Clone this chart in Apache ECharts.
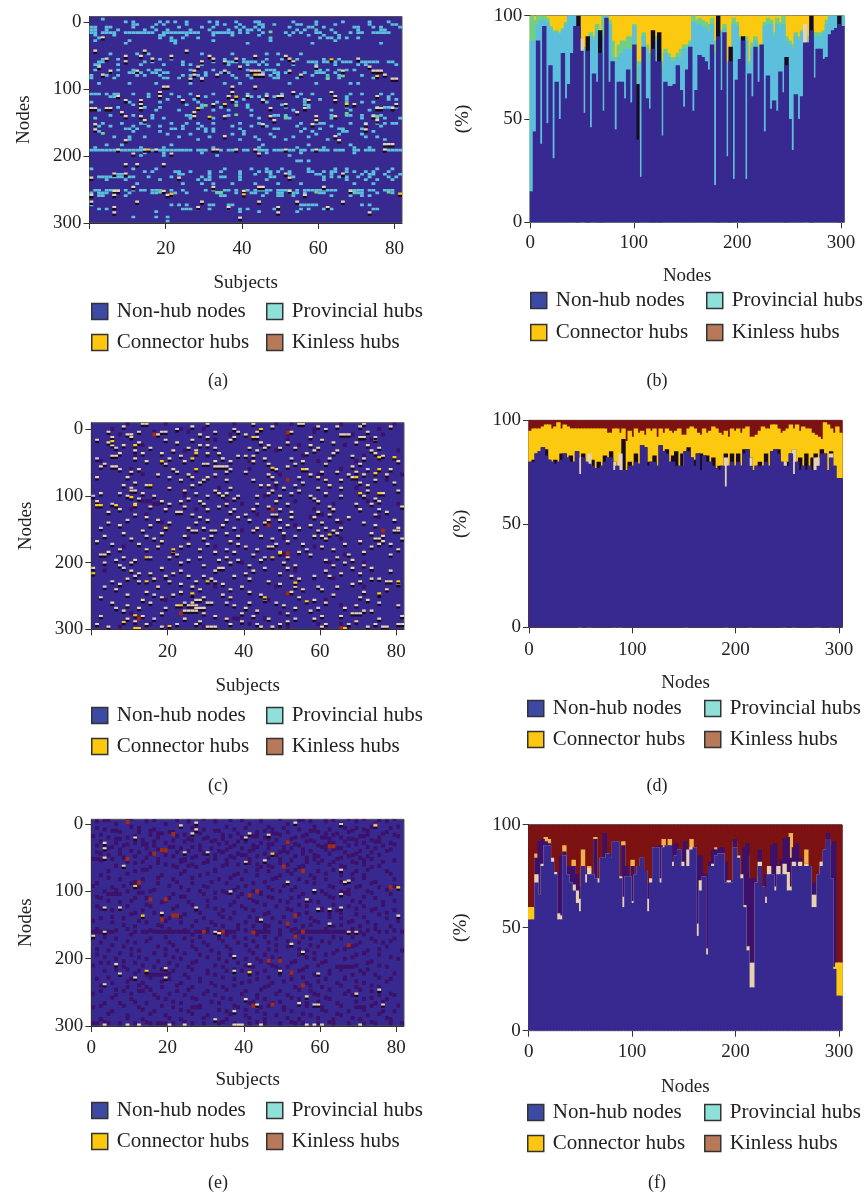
<!DOCTYPE html>
<html>
<head>
<meta charset="utf-8">
<title>Hub nodes</title>
<script src="https://cdn.jsdelivr.net/npm/echarts@6/dist/echarts.min.js"></script>
<style>html,body{margin:0;background:#fff}</style>
</head>
<body>
<div id="main" style="width:866px;height:1196px;"></div>
<script type="text/javascript">
// cell panels: each row is [node, subject, subject, ...]
var aProv = [[-5,4],[-1,10,12,19,21,23,26,32,34,39,44,45,54,60,67,74,79],[3,12,13,18,20,26,34,36,40,45,46,49,55,56,60,65,74,80,81],
[7,1,2,5,6,12,17,24,30,33,39,41,44,46,53,58,59,62,70,71,75,77,82],[11,1,2,5,8,15,18,21,27,32,37,40,42,43,45,55,57,60,64,71,77,78],
[15,1,2,4,5,6,7,10,11,12,13,14,15,16,17,20,21,22,23,24,25,26,27,28,29,33,34,35,36,37,38,40,42,46,52,54,56,60,61,65,69,71,72,75,76,77,78,79],
[19,2,7,19,20,26,33,38,45,53,58,62,66],[23,3,19,22,25,29,48,61,63,64,66,68,71],[27,2,11,22,23,33,48,65],[31,10,23,42,59,77],
[47,6,13,16,30,38,47,50,56],[55,4,8,19,22,36,41,47,51,55,62,66],[59,3,4,15,17,25,33,37,38,39,41,42,43,44,46,58,59,60,62,63,65,67,68,69,72,73,74,75,76,79,80],
[63,2,3,8,14,20,25,27,30,37,42,45,47,50,54,60,65,71,73,81],[71,2,8,12,16,18,19,27,33,42,47,48,49,60,61,63,66,68,70],[75,6,11,12,14,17,18,20,21,31,35,37,46,49,50,52,57,60,61,62,65],
[79,1,5,8,13,15,19,25,27,29,31,38,42,48,50,59,63,66,72],[83,1,7,20,21,24,30,39,43,49,50,55,63,66,75],[91,3,11,18,27,36,40,53,60,69,71],
[107,1,2,3,5,7,8,12,16,22,27,33,38,42,47,51,56,59,64,69,72,77,80],[111,6,7,16,24,31,37,43,45,49,55,68,79],[115,21,28,41,46,57,61,68,79,81],[119,1,11,19,29,34,39,47,57,68,72,75],
[123,12,26,30,42,51,57,58],[127,8,15,19,30,35,42,52,58,68,76,78,79,80,81],[131,3,18,24,29,33,37,43,54,64,69,74],[139,6,12,17,26,27,37,43,49,50,52,64,68,69,72,75,77],
[143,2,17,20,27,33,45,52,53,64,72,76,78,82],[151,4,9,14,15,22,26,29,33,40,45,56,60,61,62,69,73,76,78,80,81],[155,2,3,6,12,16,19,25,30,38,43,47,55,64,77],
[159,10,11,13,22,23,25,29,31,33,40,49,50,57,61,66,67,72],[163,3,12,19,31,33,41,56,59,67,68,75],[167,21,27,38,41,48,60,66,72],[171,7,11,15,24,32,44,49,54,58,73,76],
[175,11,29,40,45,52,63,78],[183,5,9,22,46,58,69,78],[187,2,14,20,33,45,55,62,70,74],[191,1,2,3,4,5,6,7,8,9,10,11,12,13,14,15,17,18,19,20,21,22,23,24,25,26,27,29,30,31,35,37,38,39,41,42,45,46,47,49,50,51,53,54,56,57,59,61,62,63,65,66,67,70,71,73,74,75,78,79,80,81,82],
[195,15,20,30,47,56,70],[199,14,20,34,53],[207,55,56,58],[219,1,12,18,36,43,47,51,58,65,68,76,80],[223,15,17,23,24,27,32,35,40,45,47,48,50,53,58,59,62,64,65,68,70,73,75,79],
[227,8,9,24,25,32,40,44,48,53,60,61,64,72,74,75,78,82],[231,3,4,5,6,7,8,9,11,12,16,22,30,32,35,36,40,48,49,54,62,64,66,68,71,74,79,81],[235,5,10,19,29,31,32,40,47,62,68,73,76,80],
[241,13,25,30,33,38,44,50,56,70,75],[251,2,3,5,6,7,8,10,12,14,15,17,18,19,22,25,31,33,36,37,39,42,44,45,46,47,48,50,51,52,53,55,57,58,59,60,61,62,63,64,65,69,70,71,72,74,75,78,79,80],
[255,1,3,4,5,7,11,17,18,23,26,34,35,39,43,44,47,50,51,53,54,55,57,61,62,70,71,72,76,80],[259,3,4,7,10,22,35,36,46,50,51,54,57,64,69,72,74],[273,1,22,24,26,32,33,37,38,56,57,58,59,60,72,74],
[279,3,5,25,26,27,29,32,37,40,42,49,56,58,62,64,75,76],[283,18,40,45,55],[291,12,18,21],[297,21]];
var aKin = [[22,4],[42,2,15,26],[50,10,14,22,32,44,52],[54,5,17,33,39,53,71],[58,10,30,36,54],[66,3,29,40,60,74],
[72,6,13,28,36,43,44,45,53,67,75,76,77],[78,4,28,34,45,46,56,78],[84,27,30,80,81],[96,20,21,38,44],[104,19,38,54,64],
[110,8,19,29,37,42,47,50,51,65,76],[116,10,14,25,38,46,58,65],[122,14,33,52,70,81],[128,1,2,5,6,14,48,57,76,77,80],
[134,9,28,55],[140,10,14,28,36,48,60,65,75],[146,15,49,60,76],[152,2,46,59,73],[160,2,73],[170,36,65],[176,10,66],
[182,78,79,80],[190,8,15,18,33,34,39,44,52,60,78],[196,12,22,45],[212,10,13,20],[226,7,10,52,67],[232,1,24,53],[246,12,33,45,46,62],
[252,7,8,20,41,53,69],[258,1,7,21,57],[268,1,13,30,45,55,67],[276,7,29,37,50,63],[284,7,50,74],[292,40]];
var aConn = [[55,64],[78,44],[80,76],[111,39],[128,29],[141,32],[122,36,68],[190,16],[257,41],[256,22,82]];
var aGreen = [[14,48],[84,63],[80,67],[124,31,39],[138,39],[142,52],[136,68],[140,76],[166,4],[254,19,34,35,60,70,79]];

var cKin = [[-8,14,15,31,43,55,56,72],[-4,9,27,48,60,65,71,79],[4,5,13,19,20,33,39,44,53,73],[8,10,11,18,29,41,66,67,68],[12,6,11,31,38,58,71,72],
[16,2,20,27,37,61,75],[20,5,13,23,45,52,64,70],[24,6,9,29,31,47,58,73],[28,16,26,42,46,50,54,60,76],[32,12,22,28,44,59,65,74],[36,8,14,19,31,34,57,64,75],
[40,6,7,24,39,41,43,69,77],[44,12,21,35,46,63,72],[48,15,25,33,37,43,56,81],[52,4,20,30,31,47,54,62,71],[56,3,6,7,33,34,35,36,52,69],[60,13,22,49,57,79],
[64,11,23,36,41,61,65,70],[68,18,26,33,47,58,68,72,78],[72,2,10,27,31,48,60,69],[76,24,30,36,43,62,66,75],[80,12,29,49,56,71,80],[84,9,27,45,47,63,73],
[88,11,21,37,51,60,66],[92,11,12,25,33,48,55,73,81],[96,3,14,34,36,47,62,77],[100,10,17,35,44,50,58,72],[104,13,26,38,59,75],[108,2,19,24,29,49,60,76],
[112,12,21,30,36,52,70,74],[116,16,25,34,47,63,82],[120,8,20,31,43,64,71],[124,5,23,24,37,53,60,78],[128,12,27,41,48,49,63,75],[132,15,29,39,53,59,68],
[136,18,31,36,47,50,65,80],[140,5,21,28,46,61,72],[144,8,16,35,52,58,75],[148,26,30,44,55,66,81],[152,14,27,28,32,33,43,60,64,80,81],[156,9,19,36,51,65,74],
[160,4,25,39,45,59,61,77],[164,11,17,30,48,62,75,76,82],[168,2,19,37,52,71,77],[172,13,26,39,56,67,76],[176,18,24,41,47,48,61,74],[180,8,15,29,44,64,81],
[184,5,22,33,38,50,55,72],[188,3,4,23,43,58,68,79],[192,9,21,36,52,65],[196,12,34,45,62,69],[200,4,11,24,37,51,67],[204,8,30,42,54,64,72],
[208,1,19,34,35,52,69,74],[212,11,24,33,43,62,79],[216,13,16,22,41,50,66,71],[220,20,26,38,53,63],[224,10,17,32,42,55,74,76],[228,13,21,28,47,71,78,79],
[232,8,24,35,50,69,81],[236,18,27,40,54,65],[240,7,29,37,56,61,78],[244,15,24,42,53,72],[248,10,22,35,45,64,76],[252,3,19,30,37,55,71],
[256,14,28,29,46,59,73],[260,6,16,27,31,32,42,62],[264,10,23,26,27,28,38,51,70,81],[268,13,28,29,30,41,54,67],[272,9,25,26,27,28,44,58,72,74],[276,19,30,40,52,69,70,71],
[280,3,14,33,43,61,66,82],[284,10,25,36,47,59,76],[288,12,29,40,52,70],[292,2,15,28,37,50,62,75,81,82],[296,5,19,31,32,33,45,48,61,73,77,78]];
var cLav = [[0,23,38,62],[12,44,75],[28,7,33],[44,2,53],[60,8,37,73],[72,21,55],[84,15,54],[96,8,28,53],[100,1,31,39,66],[112,6,44],[120,38,50,76],[136,10,42],[148,3,38,50,62],[160,15,32,54],[172,6,31,49,79],[180,36,57],[192,16,29,46],[196,7,26,39],[208,9,46],[220,12,30,59],[228,6,33],[236,4,60],[248,17,27],[260,25,36,49,76],[268,7,20,60],[284,17,54],[292,23,44,68]];
var cConn = [[0,45],[12,43],[18,6],[24,12],[36,28],[44,27],[48,19],[42,76,80],[58,48],[60,28,56,76],[66,75],[84,16],[72,70],[96,71,76],[102,11],[114,2,3,7,12],[148,20],[158,63],[180,22],[192,15,48],[186,50],[216,1],[228,15,31,81],[230,54],[246,27,76],[252,46],[258,57],[264,24],[289,9],[279,12],[295,21],[298,12,13,67]];
var cDark = [[-8,10,20,38,49,53,66,80],[0,6,24,30,59,76],[4,17,26,52,59],[8,8,37,52,69,77],[16,33,52,74],[24,14,45,55,67],[32,25,49,81],[40,12,31,56,72],[48,3,42,60,70],[60,11,42,66],[68,14,50,60,61,82],[76,52,62,78],[88,21,34,49,70],[100,25,46,62],[108,14,15,16,36,54,73],[112,17,18,40,64,81],
[120,48,59,11,28],[128,15,44,60,61],[132,49,58,76],[140,19,46,47,66],[144,47,54],[152,77,40],[164,26,51,66],[176,9,33,59],[186,52],[188,50,51,67],[200,40,63,72],[212,54,74,4],[224,20,59,64],[236,33,49,72],[246,52,42],[256,47,62,20],[264,66],[276,24,11,50],[284,13,36,38,39,46],[292,16,42,60,66],[296,30,50,52,8,68]];
var cRed = [[5,52],[8,17],[76,52],[120,48],[144,47],[152,77],[186,52],[246,52],[276,24],[284,13],[298,66]];

var eKin = [[-2,28,54],[2,24,75],[0,66],[8,28],[14,27,42],[16,47],[20,12,41],[28,4],[36,4],[42,25,31],[50,4],[54,46],[56,41],[62,9],[68,66],[84,68],[86,67,52],[100,37],[98,59],[104,66],[112,57],[124,4,8,28,66],[126,60,63],[132,19],[136,81],[142,45],[148,63],[160,4,33,68,70],[166,1],[162,34],[178,53],[190,56],[196,38],[208,42,7],[214,20],[218,38,50],[222,8,60],[228,12,20],[238,4],[246,76],[252,70],[256,57],[260,41],[266,55],[268,44,59,60,77],[278,38],[290,33],[298,4,10,13,21,25,38,39,40,45,57,59,61,71]];
var eConn = [[94,81],[44,48],[92,12],[136,14],[218,15],[220,42]];
var eDark = [[-8,10,11,30,50,68,72,80],[-4,2,15,26,33,45,58,62,70,78],[0,7,20,42,52,66,75],[4,11,24,36,47,59,74,81],[8,4,17,30,38,48,55,63,72],[12,8,13,21,22,28,44,52,60,68,78],[16,3,16,25,35,42,50,57,64,73,80],[20,5,10,18,31,40,46,54,61,62,66,76],[24,14,22,27,33,41,49,58,70,74],[28,7,12,20,36,45,52,63,64,72,79],[32,2,9,17,29,38,43,55,60,62,68,77],[36,5,15,24,32,40,47,53,65,66,75],[40,11,19,26,34,42,51,58,71,78],[44,3,8,16,30,39,46,56,63,70],[48,12,22,28,37,44,54,60,68,73],[52,1,2,6,18,25,33,42,50,59,65,74],[56,10,14,24,31,41,46,57,64,69,77],[60,20,27,36,39,44,52,63,72],[64,9,16,23,28,45,48,55,67,74],[70,5,12,25,33,41,47,52,60,70,78],[76,3,19,29,38,44,50,58,66,72],[82,8,14,22,34,40,48,55,62,69,80],[88,2,11,18,27,36,43,52,59,74],[94,6,13,24,31,39,47,54,64,70,76],[100,4,10,16,29,35,43,50,61,66,73],[104,5,6,7,8,22,30,40,45,56,62,68,79],[110,3,12,15,21,33,42,48,53,64,75],[116,8,19,26,38,44,52,60,71,77],[122,2,10,16,23,31,40,49,57,68,72],[128,6,14,28,35,43,53,61,65,74,80],[134,11,19,25,34,46,55,63,70,76],
[140,3,9,21,30,37,44,48,58,66,78],[146,6,15,24,32,41,50,60,68,73],[152,12,19,27,35,43,47,52,56,64,71,79],[156,2,10,21,31,39,46,54,62,69,75],[160,1,2,3,4,5,6,12,14,15,17,18,19,20,21,22,23,24,25,26,28,29,30,31,33,34,35,36,37,38,43,44,45,46,47,55,56,57,58,59,60,61,62,63,64,65,66,67,68,69,70,71,76,78,82],[164,11,27,36,44,50,54,72],[170,7,16,25,34,41,49,58,66,74,80],[176,3,12,21,30,39,47,55,63,71,77],[182,9,18,27,36,44,52,60,68,69,78],[188,5,13,23,32,42,49,57,65,73,82],[194,2,11,20,29,37,46,55,62,70,76],[200,7,15,24,34,41,44,50,59,67,81],[206,3,5,12,21,27,39,47,53,61,73],[212,9,17,26,35,43,49,52,57,65,66,67,68,69,78],[218,4,13,22,31,36,40,46,55,63,71],[224,8,15,16,17,18,19,20,25,33,42,50,59,69,75],[230,2,11,21,29,38,44,53,62,67,79],[236,6,14,24,32,40,48,57,65,72],[242,10,15,19,27,35,46,54,61,70,76],[248,3,9,13,14,23,31,41,50,58,68,74],[254,7,17,25,33,44,52,60,69,76,80],[260,11,20,28,37,46,55,63,72,78],[266,4,8,15,24,34,42,48,57,65,75],[272,1,13,22,27,28,29,39,45,51,61,70,71,72],[278,6,17,26,36,44,53,62,68,77,80],[284,10,20,31,41,49,58,66,73],[290,3,14,24,36,46,55,64,71,79],[296,1,2,5,8,12,16,18,19,20,22,27,30,34,38,42,46,50,54,56,60,64,68,72,75,79,82]];
var eDarkMore = [[-6,4,5,17,23,37,40,55,56,64,76],[6,2,13,27,28,41,51,67,70,79],[10,6,7,16,33,34,46,58,59,69,73],[14,18,19,29,39,48,49,62,65,77],[18,1,12,23,37,43,44,56,71,72,81],[22,7,8,26,30,35,47,53,63,68,69],[26,3,17,25,32,39,41,57,59,67,75,76],[30,10,14,15,34,47,48,54,70,80],[34,6,21,22,27,37,44,51,61,73],[38,8,18,29,36,43,56,62,64,79],[42,2,13,23,35,50,52,67,74],[46,5,20,33,40,41,49,59,69,76],[50,9,15,27,38,47,57,66,71],[54,3,24,25,31,36,53,61,72,80],[58,12,18,30,42,50,60,70],[62,7,22,26,35,47,56,66,76],[68,14,15,33,44,54,64,73],[74,10,24,31,39,53,62,69,79],[80,5,18,27,37,49,59,72],[86,12,23,32,46,57,66,75],[92,1,9,21,30,41,51,63,71,80],[98,7,17,26,38,48,53,68,78],[102,13,14,33,36,45,59,67,74],[108,2,24,25,39,47,55,63,72],[114,5,11,20,31,43,50,58,69,80],[120,15,27,37,46,55,64,77],[126,3,8,22,33,41,52,61,70,75],[132,12,17,29,38,47,57,66,78],[138,6,24,35,42,51,63,72],[144,1,13,20,28,44,54,59,69,81],[150,9,18,33,39,46,58,66,75],[158,7,16,25,41,50,53,73,80],[168,4,20,29,38,46,56,64,69],[174,10,15,27,35,43,52,61,75,79],[180,6,22,31,41,49,58,70],[186,2,11,20,28,37,47,55,67,76],[192,8,17,25,34,43,59,64,72],[198,4,13,22,31,48,57,69,79],[204,9,18,28,36,45,54,62,74],[210,1,14,23,33,41,48,60,70,76],[216,7,10,19,27,38,50,56,66,73],[222,12,21,31,44,53,63,72,80],[228,5,16,26,35,47,56,67,76],[234,10,19,29,42,51,60,70,78],[240,3,13,23,33,38,47,58,66,74],[246,7,16,26,36,45,55,63,71],[252,1,11,21,30,40,49,59,67,79],[258,6,18,27,35,44,53,62,74],[264,12,22,32,43,50,60,70,77],[270,3,9,19,29,38,47,57,66,74,81],[276,14,24,34,41,51,61,72],[282,5,16,27,37,46,56,65,76],[288,10,21,30,42,52,60,69,78],[294,4,15,25,35,44,53,63,74]];
var eRed = [[-3,10],[15,22],[27,52],[44,17],[39,19,20],[52,10],[63,51],[70,56],[87,13],[106,42],[100,44],[94,79],[112,16,20],[136,22,23,54],[142,19],[148,52],[160,30,35,56],[161,43],[167,54],[203,47,50],[221,53],[240,56],[268,48],[270,43],[2,75],[33,63,64],[180,68]];

// bar panels: one value per 3-node bar, top edge of each layer in %
var bNon = [15,44,88,38,95,48,76,31,68,50,
82,60,67,82,95,95,83,53,83,46,
72,68,82,54,99,68,78,45,68,68,
60,74,58,86,40,22,85,60,55,84,
78,78,42,68,66,66,67,76,64,56,
74,85,54,64,81,80,78,74,86,18,
90,64,92,32,78,21,69,79,88,21,
72,61,85,68,86,44,71,55,59,54,
73,63,76,50,35,62,50,61,87,87,
93,70,84,84,79,80,91,93,94,96,95];
var bProv = [88,88,96,98,98,97,94,92,92,91,
93,96,100,100,100,100,84,84,84,90,
88,93,82,90,100,96,80,78,80,82,
84,84,84,95,67,76,90,84,78,82,
88,82,74,82,80,78,78,80,80,84,
84,86,97,96,96,95,94,92,96,82,
82,92,94,76,78,96,95,88,86,88,
76,84,88,84,84,95,96,96,90,96,
94,96,88,86,84,90,88,92,92,88,
94,90,90,90,92,96,100,100,100,99,100];
var bMix = [100,98,100,100,100,99,95,93,93,92,
94,97,100,100,100,100,85,85,85,92,
90,96,84,100,100,98,88,80,86,88,
88,90,90,96,78,78,92,86,82,84,
90,84,78,84,82,80,80,82,84,86,
86,88,100,98,99,98,97,96,99,88,
84,93,96,78,80,99,97,90,88,90,
78,87,90,86,86,97,99,98,92,99,
97,100,90,88,86,92,90,93,93,90,
96,92,92,92,93,98,100,100,100,100,100];
var bKinBins = [15,18,22,34,39,41,60,64,68,82,90,99];
var bKinTops = [100,90,93,67,93,92,100,85,90,80,100,100];
var bPaleBins = [16,88];
var bPaleTops = [89,96];

var dNon = [80,80,84,85,87,83,81,80,79,80,
81,84,82,80,80,85,74,82,80,79,
78,77,77,78,80,82,82,76,78,76,
76,76,78,78,80,79,88,87,78,80,
80,78,88,85,84,80,80,78,78,78,
85,85,82,78,84,76,83,80,80,78,
77,76,78,68,78,80,78,80,78,84,
86,78,76,78,78,78,80,78,85,86,
84,80,78,78,84,74,80,76,78,76,
78,76,76,78,84,84,76,82,78,72,72];
var dDark = [80,81,84,85,87,86,81,80,81,80,
84,84,82,83,80,85,80,84,80,79,
81,77,80,78,83,82,85,80,78,76,
91,76,80,78,84,79,88,87,80,80,
83,78,88,85,86,80,83,85,78,84,
85,87,82,81,84,84,83,83,80,82,
77,78,78,84,78,84,78,84,78,86,
86,82,76,78,80,78,84,78,85,86,
86,80,78,80,84,86,80,82,78,84,
78,82,84,78,86,84,76,85,78,72,72];
var dConn = [95,96,96,96,97,98,98,96,97,99,
96,98,97,96,96,96,96,96,96,96,
96,96,96,96,96,94,94,96,96,94,
96,90,95,92,96,94,95,93,96,95,
96,92,96,94,96,95,94,95,96,93,
93,96,97,96,94,93,96,94,95,97,
96,94,93,95,92,96,95,96,94,96,
97,92,92,93,95,97,96,96,98,98,
96,94,95,96,98,96,98,95,97,96,
96,94,93,92,91,99,98,96,94,97,94];
var dPaleBins = [16,19,27,29,50,63,71,82,85,92,93,97];
var dPaleTops = [82,84,80,84,84,82,82,80,86,82,82,84];

var fNon = [54,54,72,66,80,90,90,82,76,54,
54,85,76,72,68,62,58,80,72,76,
76,74,72,84,84,86,84,92,92,74,
60,75,75,62,76,80,84,78,58,72,
89,89,72,89,90,90,80,85,88,80,
80,80,88,89,46,68,75,37,80,80,
85,86,86,72,72,72,89,84,74,60,
39,21,21,72,80,70,62,76,76,68,
76,76,76,68,68,80,78,80,80,80,
80,60,60,76,80,88,93,74,30,17,17];
var fPale = [60,60,76,66,81,90,90,84,77,57,
56,85,76,72,71,68,64,80,76,79,
76,74,74,84,84,86,84,92,92,75,
65,75,75,63,76,80,84,78,64,74,
89,89,74,89,90,90,82,85,88,82,
80,88,89,89,52,73,75,40,80,81,
85,86,86,72,73,72,89,85,76,61,
41,33,33,72,82,70,65,80,76,70,
80,76,81,77,70,82,78,82,80,81,
80,66,66,76,82,88,93,74,31,33,33];
var fDark = [60,60,84,92,93,92,91,84,77,77,
85,87,80,80,80,76,70,80,78,79,
76,93,74,84,96,86,86,92,92,75,
90,80,75,80,76,80,84,78,72,74,
89,89,90,89,90,90,90,91,88,88,
92,80,88,89,85,85,76,76,82,88,
88,89,89,82,73,73,93,85,76,89,
91,74,74,72,88,70,76,80,90,91,
80,83,93,94,84,89,91,84,80,81,
80,72,72,76,82,88,96,90,92,33,33];
var fConnBins = [0,1,99,100];
var fConnTops = [60,60,33,33];
var fTipBins = [2,5,6,11,14,17,19,21,30,33,37,43,45,52,60,66,70,74,78,84,89,94,95,97];
var fTipTops = [86,94,93,90,83,88,80,94,92,83,73,93,93,93,89,92,85,75,79,96,88,82,78,80];

var legendLeft = ['Non-hub nodes', 'Connector hubs'];
var legendRight = ['Provincial hubs', 'Kinless hubs'];
var legendColors = {'Non-hub nodes':'#3c4aa4','Provincial hubs':'#8fe0d8','Connector hubs':'#fdc60f','Kinless hubs':'#b8795b'};

var serif = '"Liberation Serif", serif';
var NAVY = '#37298f', CYAN = '#5cbfdc', MIX = '#72cf86', YELLOW = '#fbc90f', PALE = '#e6d2b0', LAV = '#c9c4de',
    BLACK = '#180a22', PURPLE = '#3d1069', RED = '#7c1212', BRIGHTRED = '#a32c12';
var cellColors = [CYAN, PALE, YELLOW, MIX, PURPLE, BRIGHTRED, LAV];

function cells(rows, kind){
  var out = [];
  rows.forEach(function(r){
    for (var i = 1; i < r.length; i++) out.push([r[i], r[0], kind]);
  });
  return out;
}
// half height of a cell in nodes, per kind: cyan/green 2, hubs thin with a black row under them, dark cells taller
var halfHeight = [2, 1.6, 1.6, 2, 3, 3, 1.6];
function renderCell(params, api){
  var s = api.value(0), n = api.value(1), k = api.value(2);
  var half = halfHeight[k];
  var p0 = api.coord([s - 1, n - half]), p1 = api.coord([s, n + half]);
  var kids = [];
  if (k === 1 || k === 2 || k === 6) {
    var q = api.coord([s, n + 5]);
    kids.push({type:'rect', shape:{x:p0[0], y:p1[1], width:p1[0] - p0[0], height:q[1] - p1[1]}, style:{fill:BLACK}});
  }
  kids.push({type:'rect', shape:{x:p0[0], y:p0[1], width:p1[0] - p0[0], height:p1[1] - p0[1]}, style:{fill:cellColors[k]}});
  return {type:'group', children:kids};
}
function bars(values){
  return values.map(function(v, i){ return [3*i + 1.5, v]; });
}
function sparse(bins, tops){
  return bins.map(function(b, i){ return [3*b + 1.5, tops[i]]; });
}
function full(n){
  var out = [];
  for (var i = 0; i < n; i++) out.push([3*i + 1.5, 100]);
  return out;
}

var grids = [], xAxes = [], yAxes = [], series = [], legends = [], titles = [];

function frame(left, right, top, bottom){
  return {left:left, top:top, width:right - left, height:bottom - top, show:true, backgroundColor:NAVY, borderColor:'#555', borderWidth:1};
}
function axisBase(margin){
  return {
    type:'value', splitLine:{show:false},
    axisLine:{show:true, onZero:false, lineStyle:{color:'#333'}},
    axisTick:{show:true, length:6, lineStyle:{color:'#333'}},
    axisLabel:{color:'#222', fontFamily:serif, fontSize:19, margin:margin},
    nameLocation:'middle', nameTextStyle:{color:'#222', fontFamily:serif, fontSize:19}
  };
}
function addLegend(col1, col2, top, gap){
  [[legendLeft, col1], [legendRight, col2]].forEach(function(c){
    legends.push({
      orient:'vertical', left:c[1], top:top, padding:0, itemWidth:16, itemHeight:16, itemGap:gap, selectedMode:false, icon:'rect',
      textStyle:{color:'#222', fontFamily:serif, fontSize:21, padding:[0,0,0,4]},
      data:c[0].map(function(nm){
        return {name:nm, itemStyle:{color:legendColors[nm], borderColor:'#333', borderWidth:1.5}};
      })
    });
  });
}
function addCaption(tag, x, y){
  titles.push({text:'(' + tag + ')', left:x, top:y, textAlign:'center', textStyle:{color:'#222', fontFamily:serif, fontSize:18, fontWeight:'normal'}});
}
function addCellPanel(opt){
  var g = grids.length;
  grids.push(frame(opt.left, opt.right, opt.top, opt.bottom));
  var x = axisBase(opt.xMargin);
  x.gridIndex = g; x.min = 0; x.max = 82; x.position = 'bottom';
  x.name = 'Subjects'; x.nameGap = opt.xNameGap;
  x.axisTick.customValues = [0,20,40,60,80];
  x.axisLabel.customValues = opt.xLabels;
  var y = axisBase(8);
  y.gridIndex = g; y.min = opt.yMin; y.max = 300; y.inverse = true;
  y.name = 'Nodes'; y.nameGap = 56;
  y.axisTick.customValues = [0,100,200,300];
  y.axisLabel.customValues = [0,100,200,300];
  xAxes.push(x); yAxes.push(y);
  series.push({name:'Hub class ' + opt.tag, type:'custom', xAxisIndex:g, yAxisIndex:g, coordinateSystem:'cartesian2d',
    renderItem:renderCell, encode:{x:0, y:1}, data:opt.data, clip:true, silent:true, animation:false});
  addLegend(opt.col1, opt.col2, opt.legendTop, opt.legendGap);
  addCaption(opt.tag, opt.capX, opt.capY);
}
function addBarPanel(opt){
  var g = grids.length;
  grids.push(frame(opt.left, opt.right, opt.top, opt.bottom));
  var x = axisBase(opt.xMargin);
  x.gridIndex = g; x.min = 0; x.max = 303; x.name = 'Nodes'; x.nameGap = opt.xNameGap;
  x.axisTick.customValues = [0,100,200,300];
  x.axisLabel.customValues = [0,100,200,300];
  var y = axisBase(8);
  y.gridIndex = g; y.min = 0; y.max = 100; y.name = '(%)'; y.nameGap = 58;
  y.axisTick.customValues = [0,50,100];
  y.axisLabel.customValues = [0,50,100];
  xAxes.push(x); yAxes.push(y);
  // layers are drawn from the tallest down, each bar shows only what the next layer leaves
  opt.layers.forEach(function(l){
    series.push({name:l[0], type:'bar', xAxisIndex:g, yAxisIndex:g, barWidth:4.4, barGap:'-100%',
      itemStyle:{color:l[1]}, data:l[2], silent:true, animation:false});
  });
  addLegend(opt.col1, opt.col2, opt.legendTop, opt.legendGap);
  addCaption(opt.tag, opt.capX, opt.capY);
}

addCellPanel({tag:'a', left:89.5, right:402, top:16.5, bottom:223, yMin:-9, xLabels:[20,40,60,80], xMargin:17, xNameGap:51,
  col1:91, col2:266, legendTop:301, legendGap:10, capX:213, capY:367,
  data:cells(aProv,0).concat(cells(aGreen,3), cells(aKin,1), cells(aConn,2))});
addBarPanel({tag:'b', left:530.3, right:844, top:15.7, bottom:222.3, xMargin:11, xNameGap:44,
  col1:530, col2:706, legendTop:290, legendGap:11, capX:652, capY:367,
  layers:[
    ['Connector hubs', YELLOW, full(101)],
    ['Mixed', MIX, bars(bMix)],
    ['Provincial hubs', CYAN, bars(bProv)],
    ['Kinless hubs', BLACK, sparse(bKinBins, bKinTops)],
    ['Pale', PALE, sparse(bPaleBins, bPaleTops)],
    ['Non-hub nodes', NAVY, bars(bNon)]
  ]});
addCellPanel({tag:'c', left:91.3, right:404, top:422.7, bottom:629.3, yMin:-9.5, xLabels:[20,40,60,80], xMargin:13, xNameGap:47,
  col1:91, col2:266, legendTop:705, legendGap:10, capX:213, capY:772,
  data:cells(cDark,4).concat(cells(cRed,5), cells(cKin,1), cells(cLav,6), cells(cConn,2))});
addBarPanel({tag:'d', left:529, right:842, top:420.3, bottom:627.3, xMargin:13, xNameGap:46,
  col1:527, col2:704, legendTop:698, legendGap:10, capX:652, capY:772,
  layers:[
    ['Kinless hubs', RED, full(101)],
    ['Connector hubs', YELLOW, bars(dConn)],
    ['Dark', BLACK, bars(dDark)],
    ['Pale', PALE, sparse(dPaleBins, dPaleTops)],
    ['Non-hub nodes', NAVY, bars(dNon)],
    ['Provincial hubs', CYAN, []]
  ]});
addCellPanel({tag:'e', left:91.3, right:404, top:819.3, bottom:1026, yMin:-7, xLabels:[0,20,40,60,80], xMargin:13, xNameGap:45,
  col1:91, col2:266, legendTop:1100, legendGap:10, capX:213, capY:1169,
  data:cells(eDark,4).concat(cells(eDarkMore,4), cells(eRed,5), cells(eKin,1), cells(eConn,2))});
addBarPanel({tag:'f', left:528.7, right:842, top:824.7, bottom:1030.7, xMargin:12, xNameGap:47,
  col1:527, col2:704, legendTop:1102, legendGap:10, capX:652, capY:1169,
  layers:[
    ['Kinless hubs', RED, full(101)],
    ['Tip', '#f2b04a', sparse(fTipBins, fTipTops)],
    ['Dark', PURPLE, bars(fDark)],
    ['Pale', PALE, bars(fPale)],
    ['Connector hubs', YELLOW, sparse(fConnBins, fConnTops)],
    ['Non-hub nodes', NAVY, bars(fNon)]
  ]});

var myChart = echarts.init(document.getElementById('main'), null, {renderer:'canvas'});
myChart.setOption({
  animation:false, backgroundColor:'#fff',
  title:titles, legend:legends, grid:grids, xAxis:xAxes, yAxis:yAxes, series:series
});
</script>
</body>
</html>
